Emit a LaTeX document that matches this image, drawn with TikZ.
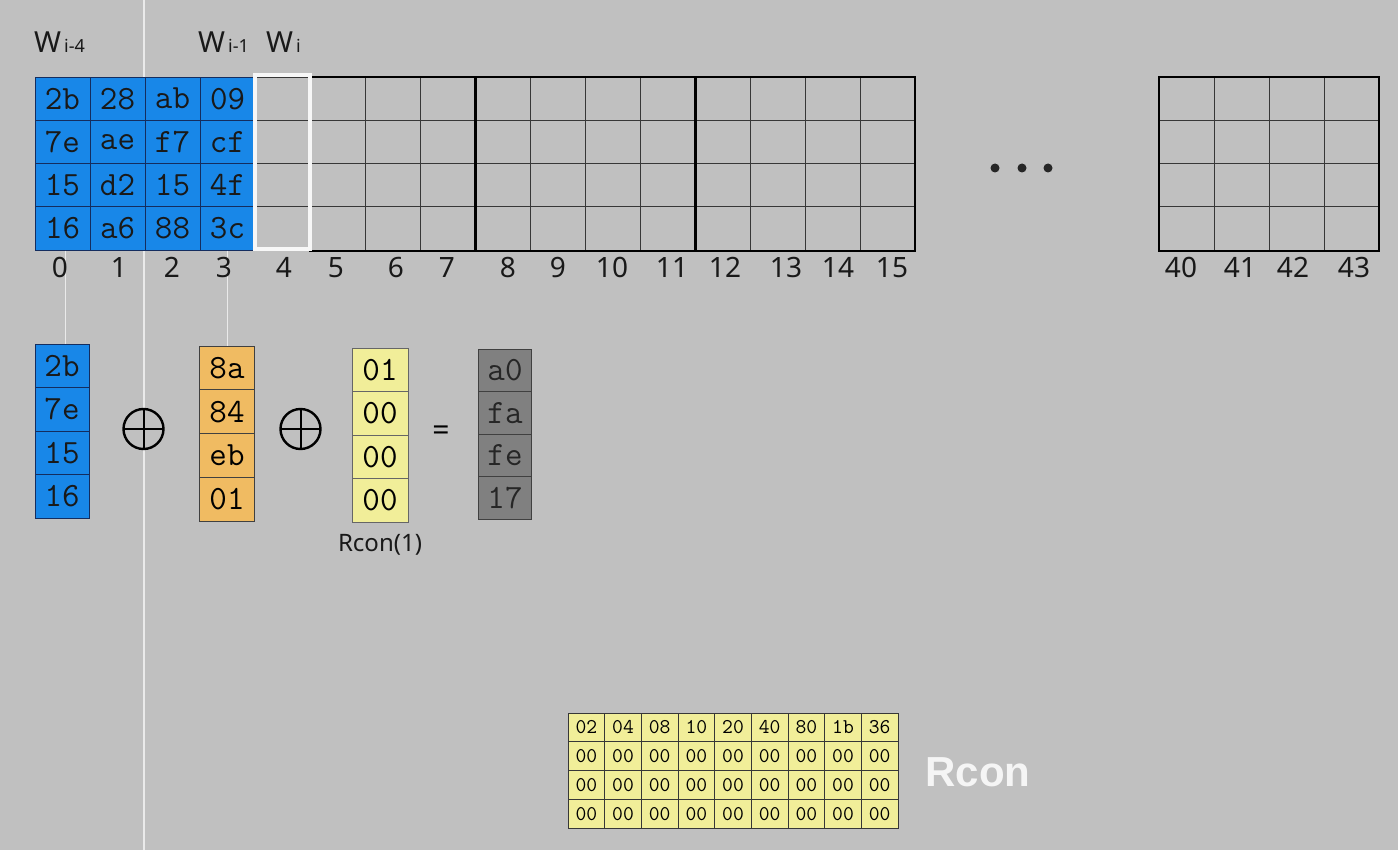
\documentclass[tikz,border=0pt]{standalone}
\usepackage{fontspec}
\setmainfont{Noto Sans}
\newfontfamily\rconfont{Liberation Sans}
\usetikzlibrary{positioning}

\definecolor{bggray}{RGB}{192,192,192}
\definecolor{keyblue}{RGB}{24,135,232}
\definecolor{keyedge}{RGB}{20,45,95}
\definecolor{subor}{RGB}{240,187,98}
\definecolor{rconyel}{RGB}{241,238,153}
\definecolor{resgray}{RGB}{128,128,128}
\definecolor{cellline}{RGB}{55,55,55}
\definecolor{wireline}{RGB}{234,234,234}

\tikzset{
  cell/.style={rectangle,draw=cellline,line width=0.9pt,inner sep=0pt,
    minimum width=55pt,minimum height=43.3pt,
    font=\ttfamily\fontsize{34}{34}\selectfont},
  keycell/.style={cell,fill=keyblue,draw=keyedge,text=black!90},
  subcell/.style={cell,fill=subor,draw=black!75,minimum height=43.75pt},
  rconcell/.style={cell,fill=rconyel,draw=black!60,minimum width=56pt,minimum height=43.5pt},
  rescell/.style={cell,fill=resgray,draw=black!75,minimum width=53pt,minimum height=42.5pt,text=black!85},
  tabcell/.style={rectangle,draw=cellline,line width=0.8pt,inner sep=0pt,fill=rconyel,
    minimum width=36.67pt,minimum height=28.75pt,font=\ttfamily\fontsize{21}{21}\selectfont},
  idx/.style={inner sep=0pt,font=\fontsize{28}{28}\selectfont,text=black!90},
  hdr/.style={inner sep=0pt,anchor=base west,font=\fontsize{29}{29}\selectfont,text=black!90},
  wire/.style={wireline,line width=1.3pt},
  xorsym/.style={circle,draw=black,line width=2.4pt,minimum size=40pt,inner sep=0pt,
    path picture={\draw[line width=2pt]
      (path picture bounding box.north) -- (path picture bounding box.south)
      (path picture bounding box.west) -- (path picture bounding box.east);}},
  dot/.style={circle,fill=black!85,minimum size=9pt,inner sep=0pt},
}

\begin{document}
\begin{tikzpicture}[x=1pt,y=-1pt]
  \useasboundingbox (0,0) rectangle (1398,850);
  \fill[bggray] (0,0) rectangle (1398,850);
  % cursor line
  \draw[wire] (144,0) -- (144,850);

  % words w0..w3 (cipher key)
  \foreach \v [count=\i from 0] in {2b,7e,15,16,28,ae,d2,a6,ab,f7,15,88,09,cf,4f,3c}{
    \pgfmathtruncatemacro\c{\i/4}
    \pgfmathtruncatemacro\r{mod(\i,4)}
    \node[keycell] (m-\c-\r) at ({62.5+55*\c},{98.65+43.3*\r}) {\v};
  }
  % words w4..w15, still empty
  \foreach \c in {4,...,15}
    \foreach \r in {0,...,3}
      \node[cell] (m-\c-\r) at ({62.5+55*\c},{98.65+43.3*\r}) {};
  \draw[line width=2pt] (m-5-0.north west) rectangle (m-15-3.south east);
  \draw[line width=3pt] (m-7-0.north east) -- (m-7-3.south east)
                        (m-11-0.north east) -- (m-11-3.south east);
  \draw[white!94!gray,line width=4pt] ([yshift=2pt]m-4-0.north west) rectangle ([yshift=2pt]m-4-3.south east);

  % last round key w40..w43
  \foreach \c in {0,...,3}
    \foreach \r in {0,...,3}
      \node[cell] (z-\c-\r) at ({1186.5+55*\c},{98.65+43.3*\r}) {};
  \draw[line width=2pt] (z-0-0.north west) rectangle (z-3-3.south east);

  \foreach \x [count=\k] in {995,1022,1048}
    \node[dot] (dot-\k) at (\x,168) {};

  % headers
  \node[hdr] (h-im4) at (34,53) {W{\fontsize{18}{18}\selectfont\,i-4}};
  \node[hdr] (h-im1) at (198,53) {W{\fontsize{18}{18}\selectfont\,i-1}};
  \node[hdr] (h-i) at (266,53) {W{\fontsize{18}{18}\selectfont\,i}};

  % w(i-4) xor SubWord(RotWord(w(i-1))) xor Rcon(1)
  \foreach \v [count=\r from 0] in {2b,7e,15,16}
    \node[keycell,minimum width=54pt,minimum height=43.5pt] (wa-\r) at (62,{365.75+43.5*\r}) {\v};
  \foreach \v [count=\r from 0] in {8a,84,eb,01}
    \node[subcell] (sb-\r) at (227,{367.9+43.75*\r}) {\v};
  \foreach \v [count=\r from 0] in {01,00,00,00}
    \node[rconcell] (rc-\r) at (380,{369.75+43.5*\r}) {\v};
  \foreach \v [count=\r from 0] in {a0,fa,fe,17}
    \node[rescell] (res-\r) at (505,{370.25+42.5*\r}) {\v};

  \node[xorsym] (xor-1) at (143.5,429) {};
  \node[xorsym] (xor-2) at (300.5,429) {};
  \node[font=\fontsize{30}{30}\selectfont\bfseries] (eq) at (441,433) {=};
  \node[below=12pt of rc-3,inner sep=0pt,font=\fontsize{24}{24}\selectfont,text=black!90] (rc-lbl) {Rcon(1)};

  \draw[wire] ([xshift=3pt]m-0-3.south) -- ([xshift=3pt]m-0-3.south |- wa-0.north);
  \draw[wire] (m-3-3.south) -- (m-3-3.south |- sb-0.north);

  % word indices
  \foreach \n/\x in {0/60,1/119,2/172,3/224,4/284,5/336,6/396,7/447,8/508,9/558,
                     10/612,11/672,12/725,13/786,14/838,15/892,40/1181,41/1240,42/1293,43/1354}
    \node[idx] (i-\n) at (\x,267.5) {\n};

  % Rcon table
  \foreach \v [count=\c from 0] in {02,04,08,10,20,40,80,1b,36}{
    \node[tabcell] (rt-\c-0) at ({586.33+36.67*\c},727.4) {\v};
    \foreach \r in {1,2,3}
      \node[tabcell] (rt-\c-\r) at ({586.33+36.67*\c},{727.4+28.75*\r}) {00};
  }
  \node[font=\rconfont\bfseries\fontsize{42}{42}\selectfont,text=white!92!gray] (rcon-name) at (978,772) {Rcon};
\end{tikzpicture}
\end{document}
